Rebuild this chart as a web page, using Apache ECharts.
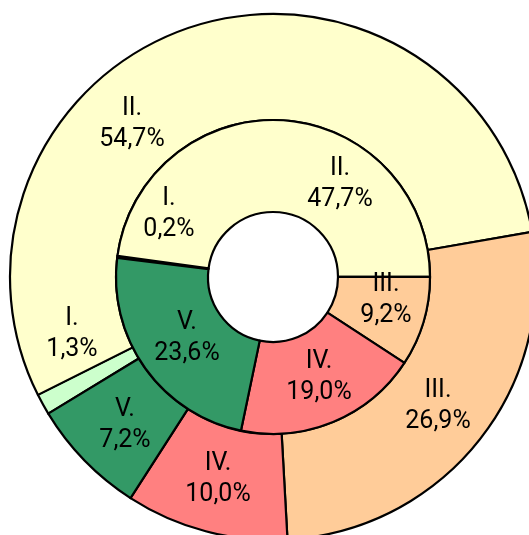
<!DOCTYPE html>
<html>
<head>
<meta charset="utf-8">
<script src="https://cdn.jsdelivr.net/npm/echarts@6/dist/echarts.min.js"></script>
<style>
    html, body { margin: 0; padding: 0; background: #fff; }
    #chart { width: 529px; height: 535px; }
</style>
</head>
<body>
<div id="chart"></div>
<script>
var categories = ['I.', 'II.', 'III.', 'IV.', 'V.'];
var muzi = [1.3, 54.7, 26.9, 10.0, 7.2];
var zeny = [0.2, 47.7, 9.2, 19.0, 23.6];

var colors = ['#CCFFCC', '#FFFFCC', '#FFCC99', '#FF8080', '#339966'];

// label spots, moved by hand like in the original
var outerLabelPos = [[72, 334], [132, 124], [438, 406], [218, 479], [125, 425]];
var innerLabelPos = [[169, 214], [340, 184], [386, 300], [319, 377], [187, 338]];

var labelFont = "Roboto, 'Liberation Sans', Arial, sans-serif";

function toData(values) {
    return values.map(function (v, i) {
        return { name: categories[i], value: v, itemStyle: { color: colors[i] } };
    });
}

function fmt(p) {
    return p.name + '\n' + p.value.toFixed(1).replace('.', ',') + '%';
}

var chart = echarts.init(document.getElementById('chart'));

var baseSeries = {
    type: 'pie',
    center: [273, 277],
    clockwise: true,
    avoidLabelOverlap: false,
    animation: false,
    itemStyle: {
        borderColor: '#000',
        borderWidth: 2.2
    },
    label: {
        show: true,
        position: 'inside',
        formatter: fmt,
        color: '#000',
        fontFamily: labelFont,
        fontSize: 25,
        lineHeight: 31
    },
    labelLine: { show: false },
    emphasis: { disabled: true }
};

chart.setOption({
    series: [
        Object.assign({}, baseSeries, {
            name: 'Muži',
            radius: [157, 263],
            startAngle: 211.3,
            data: toData(muzi),
            labelLayout: function (p) {
                var pos = outerLabelPos[p.dataIndex];
                return { x: pos[0], y: pos[1], align: 'center', verticalAlign: 'middle' };
            }
        }),
        Object.assign({}, baseSeries, {
            name: 'Ženy',
            radius: [65, 157],
            startAngle: 173.0,
            data: toData(zeny),
            labelLayout: function (p) {
                var pos = innerLabelPos[p.dataIndex];
                return { x: pos[0], y: pos[1], align: 'center', verticalAlign: 'middle' };
            }
        })
    ],
    graphic: [
        {
            type: 'text',
            x: 266,
            y: 67,
            style: {
                text: 'Muži',
                fill: '#000',
                font: "bold 27px 'Liberation Sans', Arial, sans-serif",
                align: 'center',
                verticalAlign: 'middle'
            }
        },
        {
            type: 'text',
            x: 267,
            y: 152,
            style: {
                text: 'Ženy',
                fill: '#000',
                font: "bold 27px 'Liberation Sans', Arial, sans-serif",
                align: 'center',
                verticalAlign: 'middle'
            }
        }
    ]
});
</script>
</body>
</html>
